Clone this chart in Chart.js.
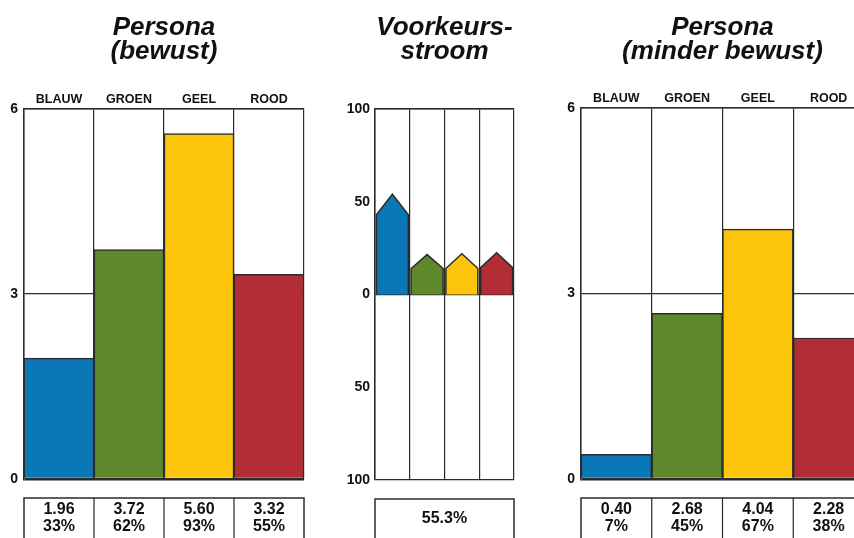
<!DOCTYPE html>
<html>
<head>
<meta charset="utf-8">
<script src="https://cdn.jsdelivr.net/npm/chart.js@4.4.1/dist/chart.umd.min.js"></script>
<style>
  html, body { margin: 0; padding: 0; background: #fff; overflow: hidden; width: 854px; height: 538px; }
  canvas { position: absolute; top: 0; }
</style>
</head>
<body>
<canvas id="bewust" width="330" height="538" style="left:0"></canvas>
<canvas id="stroom" width="210" height="538" style="left:330px"></canvas>
<canvas id="minder" width="340" height="538" style="left:540px"></canvas>
<script>
// data
const categories = ['BLAUW', 'GROEN', 'GEEL', 'ROOD'];
const colors = ['#0a77b6', '#5e882a', '#fcc50c', '#b22d36'];
const bewustValues = [1.96, 3.72, 5.60, 3.32];
const bewustPercent = ['33%', '62%', '93%', '55%'];
const minderValues = [0.40, 2.68, 4.04, 2.28];
const minderPercent = ['7%', '45%', '67%', '38%'];
const flowSide = [43, 14, 14, 14.5];
const flowPeak = [54, 21.5, 22, 22.5];
const flowTotal = '55.3%';

const ink = '#2b2b2b';
const font = '"Liberation Sans", Arial, sans-serif';
Chart.defaults.font.family = font;
Chart.defaults.color = '#111';

// the little table under each plot
function tableBox(cells, firstLine) {
    return {
        id: 'tableBox',
        afterDraw(chart) {
            const ctx = chart.ctx;
            const area = chart.chartArea;
            const top = area.bottom + 19;
            const w = (area.right - area.left) / cells.length;
            ctx.save();
            ctx.strokeStyle = ink;
            ctx.lineWidth = 1.5;
            ctx.strokeRect(area.left, top, area.right - area.left, chart.height + 10 - top);
            ctx.lineWidth = 1.2;
            for (let i = 1; i < cells.length; i++) {
                ctx.beginPath();
                ctx.moveTo(area.left + i * w, top);
                ctx.lineTo(area.left + i * w, chart.height);
                ctx.stroke();
            }
            ctx.fillStyle = '#111';
            ctx.font = 'bold 16px ' + font;
            ctx.textAlign = 'center';
            ctx.textBaseline = 'middle';
            cells.forEach((lines, i) => {
                lines.forEach((t, j) => {
                    ctx.fillText(t, area.left + (i + 0.5) * w, top + firstLine + j * 17);
                });
            });
            ctx.restore();
        }
    };
}

function titleOpts(lines) {
    return {
        display: true,
        text: lines,
        fullSize: false,
        color: '#111',
        font: { size: 26, weight: 'bold', style: 'italic', lineHeight: 0.923 },
        padding: { top: 16, bottom: 0 }
    };
}

function personaChart(id, title, values, percents, pad, axisH, axisW) {
    return new Chart(document.getElementById(id), {
        type: 'bar',
        data: {
            labels: categories,
            datasets: [{
                data: values,
                backgroundColor: colors,
                borderColor: ink,
                borderWidth: 1.5,
                barPercentage: 1,
                categoryPercentage: 1
            }]
        },
        options: {
            responsive: false,
            animation: false,
            layout: { padding: pad },
            plugins: {
                legend: { display: false },
                tooltip: { enabled: false },
                title: titleOpts(title)
            },
            scales: {
                x: {
                    position: 'top',
                    z: 1,
                    grid: { color: ink, lineWidth: 1.2, drawTicks: false },
                    border: { color: ink, width: 1.5 },
                    ticks: { padding: 2, font: { size: 12.5, weight: 'bold' } },
                    afterFit: s => { s.height = axisH; }
                },
                y: {
                    min: 0,
                    max: 6,
                    z: 1,
                    grid: {
                        color: ink,
                        drawTicks: false,
                        lineWidth: c => c.tick && c.tick.value === 0 ? 2.5 : 1.2
                    },
                    border: { color: ink, width: 1.5 },
                    ticks: { stepSize: 3, padding: 6, font: { size: 14, weight: 'bold' } },
                    afterFit: s => { s.width = axisW; }
                }
            }
        },
        plugins: [tableBox(values.map((v, i) => [v.toFixed(2), percents[i]]), 12)]
    });
}

personaChart('bewust', ['Persona', '(bewust)'], bewustValues, bewustPercent,
    { left: 0, right: 26, top: 0, bottom: 59 }, 45, 24);
personaChart('minder', ['Persona', '(minder bewust)'], minderValues, minderPercent,
    { left: 0, right: 16, top: 0, bottom: 59 }, 44, 41);

// houses in the middle panel
const inset = 0.04;
const houses = flowSide.map((side, i) => ({
    data: [
        { x: i + inset, y: 0 },
        { x: i + inset, y: side },
        { x: i + 0.5, y: flowPeak[i] },
        { x: i + 1 - inset, y: side },
        { x: i + 1 - inset, y: 0 }
    ],
    backgroundColor: colors[i],
    borderColor: ink,
    borderWidth: 1.5,
    fill: 'origin',
    pointRadius: 0,
    tension: 0
}));

new Chart(document.getElementById('stroom'), {
    type: 'line',
    data: { datasets: houses },
    options: {
        responsive: false,
        animation: false,
        layout: { padding: { left: 0, right: 26, top: 0, bottom: 58 } },
        plugins: {
            legend: { display: false },
            tooltip: { enabled: false },
            title: titleOpts(['Voorkeurs-', 'stroom'])
        },
        scales: {
            x: {
                type: 'linear',
                position: 'top',
                min: 0,
                max: 4,
                z: 1,
                grid: { color: ink, lineWidth: 1.2, drawTicks: false },
                border: { color: ink, width: 1.5 },
                ticks: { stepSize: 1, display: false },
                afterFit: s => { s.height = 45; }
            },
            y: {
                min: -100,
                max: 100,
                z: 1,
                grid: {
                    drawTicks: false,
                    lineWidth: 1.2,
                    color: c => c.tick && Math.abs(c.tick.value) === 50 ? 'rgba(0,0,0,0)' : ink
                },
                border: { color: ink, width: 1.5 },
                ticks: {
                    stepSize: 50,
                    padding: 5,
                    font: { size: 14, weight: 'bold' },
                    callback: v => Math.abs(v)
                },
                afterFit: s => { s.width = 45; }
            }
        }
    },
    plugins: [tableBox([[flowTotal]], 20)]
});
</script>
</body>
</html>
